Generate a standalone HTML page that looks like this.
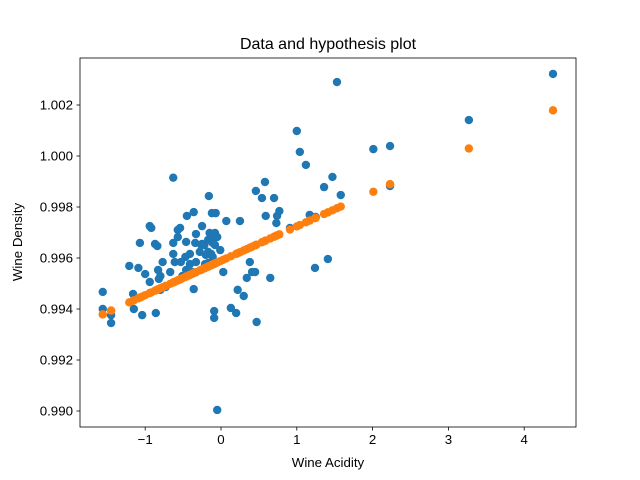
<!DOCTYPE html>
<html><head><meta charset="utf-8"><style>
body{margin:0;background:#fff;}
svg{display:block;font-family:"Liberation Sans","DejaVu Sans",sans-serif;}
</style></head><body>
<svg id="chart" width="640" height="480"></svg>
<script>
const acidity=[-1.56,-1.56,-1.45,-1.45,-1.21,-1.16,-1.15,-1.09,-1.07,-1.04,-1.00,-0.94,-0.92,-0.94,-0.87,-0.86,-0.84,-0.83,-0.82,-0.80,-0.80,-0.77,-0.73,-0.67,-0.63,-0.63,-0.63,-0.61,-0.57,-0.57,-0.54,-0.51,-0.53,-0.47,-0.46,-0.46,-0.45,-0.42,-0.41,-0.41,-0.38,-0.36,-0.36,-0.34,-0.33,-0.33,-0.28,-0.26,-0.25,-0.25,-0.22,-0.21,-0.20,-0.17,-0.17,-0.17,-0.16,-0.15,-0.13,-0.12,-0.11,-0.11,-0.11,-0.09,-0.09,-0.09,-0.08,-0.08,-0.07,-0.05,-0.01,0.03,0.07,0.13,0.20,0.22,0.25,0.30,0.34,0.38,0.41,0.45,0.47,0.46,0.54,0.58,0.59,0.65,0.70,0.73,0.74,0.77,0.91,1.00,1.04,1.12,1.17,1.24,1.25,1.36,1.41,1.47,1.53,1.58,2.01,2.23,2.23,3.27,4.38,-0.05];
const density=[0.99467,0.99400,0.99376,0.99345,0.99569,0.99459,0.99400,0.99561,0.99659,0.99376,0.99537,0.99725,0.99718,0.99506,0.99655,0.99384,0.99647,0.99553,0.99518,0.99529,0.99475,0.99584,0.99486,0.99545,0.99915,0.99659,0.99616,0.99584,0.99682,0.99710,0.99718,0.99529,0.99584,0.99604,0.99663,0.99553,0.99765,0.99541,0.99616,0.99576,0.99545,0.99780,0.99478,0.99659,0.99584,0.99694,0.99624,0.99651,0.99655,0.99725,0.99651,0.99576,0.99612,0.99671,0.99580,0.99624,0.99843,0.99698,0.99616,0.99776,0.99659,0.99682,0.99604,0.99690,0.99392,0.99365,0.99651,0.99698,0.99776,0.99682,0.99631,0.99545,0.99745,0.99404,0.99384,0.99475,0.99745,0.99451,0.99522,0.99584,0.99545,0.99545,0.99349,0.99863,0.99835,0.99898,0.99765,0.99522,0.99835,0.99737,0.99765,0.99784,0.99718,1.00098,1.00016,0.99965,0.99769,0.99561,0.99761,0.99878,0.99596,0.99918,1.00290,0.99847,1.00027,1.00039,0.99882,1.00141,1.00322,0.99004];
const hypIntercept=0.99589;
const hypSlope=0.001347;
const xTicks=[-1,0,1,2,3,4];
const yTicks=[0.990,0.992,0.994,0.996,0.998,1.000,1.002];

const L=80,R=576,T=58,B=427;
const xScale=v=>221+v*75.8;
const yScale=v=>411-(v-0.990)*25500;
const svg=document.getElementById('chart');
const NS='http://www.w3.org/2000/svg';
function mk(tag,attrs,parent){const e=document.createElementNS(NS,tag);for(const k in attrs)e.setAttribute(k,attrs[k]);(parent||svg).appendChild(e);return e;}

const pts=mk('g',{});


acidity.forEach((a,i)=>{
  const c=mk('circle',{cx:xScale(a),cy:yScale(density[i]),r:4.2,fill:'#1f77b4'},pts);
  
  
});
const hyp=mk('g',{});


acidity.forEach(a=>{
  const c=mk('circle',{cx:xScale(a),cy:yScale(hypIntercept+hypSlope*a),r:4.2,fill:'#ff7f0e'},hyp);
  
  
});

const frame=mk('rect',{x:L,y:T,width:R-L,height:B-T,fill:'none',stroke:'#000','stroke-width':0.8});



xTicks.forEach(t=>{
  const x=xScale(t);
  mk('line',{x1:x,x2:x,y1:B,y2:B+3.5,stroke:'#000','stroke-width':0.8});
  const tx=mk('text',{x:x,y:B+17,'text-anchor':'middle','font-size':'13.3px'});
  tx.textContent=t<0?'\u2212'+(-t):String(t);
  
  
});
yTicks.forEach(t=>{
  const y=yScale(t);
  mk('line',{x1:L-3.5,x2:L,y1:y,y2:y,stroke:'#000','stroke-width':0.8});
  const tx=mk('text',{x:L-7,y:y+4.5,'text-anchor':'end','font-size':'13.3px'});
  tx.textContent=t.toFixed(3);
  
  
});
const title=mk('text',{x:328,y:49,'text-anchor':'middle','font-size':'16px'});
title.textContent='Data and hypothesis plot';


const xl=mk('text',{x:328,y:467,'text-anchor':'middle','font-size':'13.3px'});
xl.textContent='Wine Acidity';


const yl=mk('text',{x:22,y:242,'text-anchor':'middle','font-size':'13.3px',transform:'rotate(-90 22 242)'});
yl.textContent='Wine Density';


</script>
</body></html>
